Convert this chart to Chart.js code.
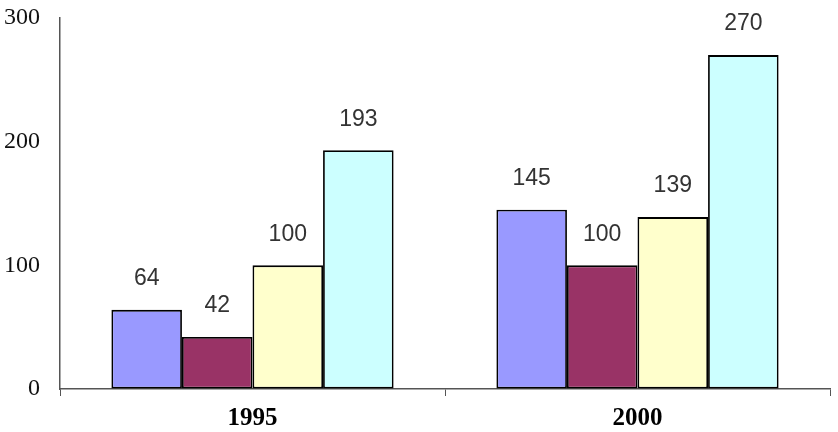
<!DOCTYPE html>
<html>
<head>
<meta charset="utf-8">
<script src="https://cdn.jsdelivr.net/npm/chart.js@4"></script>
<style>
  html, body { margin: 0; padding: 0; background: #fff; }
  #wrap { width: 838px; height: 432px; }
</style>
</head>
<body>
<div id="wrap"><canvas id="barGraph" width="838" height="432"></canvas></div>
<script>
var years = ['1995', '2000'];
var seriesA = [64, 145];
var seriesB = [42, 100];
var seriesC = [100, 139];
var seriesD = [193, 270];
var yTicks = [0, 100, 200, 300];

var colors = ['#9999FF', '#993366', '#FFFFCC', '#CCFFFF'];

// draws the number above every bar
var valueLabels = {
    id: 'valueLabels',
    afterDatasetsDraw: function(chart) {
        var ctx = chart.ctx;
        ctx.save();
        ctx.font = '23px "Liberation Sans", Arial, sans-serif';
        ctx.fillStyle = '#333';
        ctx.textAlign = 'center';
        ctx.textBaseline = 'middle';
        chart.data.datasets.forEach(function(ds, i) {
            var meta = chart.getDatasetMeta(i);
            meta.data.forEach(function(bar, j) {
                ctx.fillText(ds.data[j], bar.x, bar.y - 31);
            });
        });
        ctx.restore();
    }
};

var sets = [seriesA, seriesB, seriesC, seriesD];
var ctx = document.getElementById('barGraph').getContext('2d');
var barGraph = new Chart(ctx, {
    type: 'bar',
    data: {
        labels: years,
        datasets: sets.map(function(d, i) {
            return {
                data: d,
                backgroundColor: colors[i],
                borderColor: '#000',
                borderWidth: 1.8,
                borderSkipped: false,
                categoryPercentage: 0.733,
                barPercentage: 1
            };
        })
    },
    options: {
        responsive: false,
        animation: false,
        layout: { padding: { top: 18, right: 8, left: 0, bottom: 0 } },
        plugins: { legend: { display: false }, tooltip: { enabled: false } },
        scales: {
            x: {
                grid: { offset: true, drawOnChartArea: false, drawTicks: true, tickLength: 7, color: '#555' },
                border: { color: '#555', width: 1.5 },
                ticks: {
                    font: { family: '"Liberation Serif", "Times New Roman", serif', size: 25, weight: 'bold' },
                    color: '#000',
                    padding: 8
                },
                afterFit: function(s) { s.height = 43; s.paddingLeft = 0; s.paddingRight = 0; }
            },
            y: {
                min: 0,
                max: 300,
                afterBuildTicks: function(s) {
                    s.ticks = yTicks.map(function(v) { return { value: v }; });
                },
                grid: { display: true, drawOnChartArea: false, drawTicks: false },
                border: { color: '#555', width: 1.5 },
                ticks: {
                    font: { family: '"Liberation Serif", "Times New Roman", serif', size: 24 },
                    color: '#111',
                    padding: 20
                },
                afterFit: function(s) { s.width = 60; s.paddingTop = 0; s.paddingBottom = 0; }
            }
        }
    },
    plugins: [valueLabels]
});
</script>
</body>
</html>
